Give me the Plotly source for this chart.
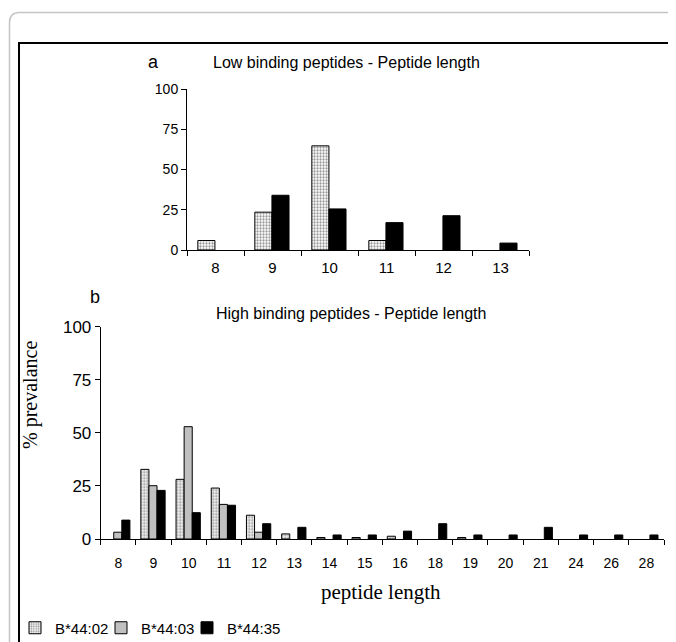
import plotly.graph_objects as go

# ---- data (None = no bar drawn) ----
cats_a = ["8", "9", "10", "11", "12", "13"]
low_b4402 = [5.9, 23.5, 64.7, 5.9, None, None]
low_b4435 = [None, 34.0, 25.5, 17.0, 21.3, 4.3]

cats_b = ["8", "9", "10", "11", "12", "13", "14", "15", "16", "18", "19", "20", "21", "24", "26", "28"]
high_b4402 = [None, 32.8, 28.1, 24.0, 11.2, 2.4, 0.7, 0.7, 1.3, None, 0.7, None, None, None, None, None]
high_b4403 = [3.2, 25.1, 52.9, 16.3, 3.2, None, None, None, None, None, None, None, None, None, None, None]
high_b4435 = [8.9, 22.9, 12.4, 15.9, 7.2, 5.5, 1.9, 1.9, 3.7, 7.2, 1.9, 1.9, 5.5, 1.9, 1.9, 1.9]

y_ticks = [0, 25, 50, 75, 100]
series_names = ["B*44:02", "B*44:03", "B*44:35"]

W, H = 676, 642
OFF = 8  # page body margin
SANS = "Liberation Sans, Arial, sans-serif"
SERIF = "Liberation Serif, Times New Roman, serif"


def px(x):
    return (x - OFF) / W


def py(y):
    return 1 - (y - OFF) / H


dotted = dict(color="white", line=dict(color="black", width=1),
              pattern=dict(shape=".", fgcolor="#333333", bgcolor="white", size=3, solidity=0.45))
gray = dict(color="#c0c0c0", line=dict(color="black", width=1))
black = dict(color="black", line=dict(color="black", width=1))

fig = go.Figure()

# panel a
fig.add_trace(go.Bar(x=cats_a, y=low_b4402, marker=dotted, width=0.3, offset=-0.31,
                     xaxis="x", yaxis="y", showlegend=False, name=series_names[0]))
fig.add_trace(go.Bar(x=cats_a, y=low_b4435, marker=black, width=0.3, offset=-0.01,
                     xaxis="x", yaxis="y", showlegend=False, name=series_names[2]))

# panel b
bw = 0.23
fig.add_trace(go.Bar(x=cats_b, y=high_b4402, marker=dotted, width=bw, offset=-0.36,
                     xaxis="x2", yaxis="y2", name=series_names[0], legend="legend"))
fig.add_trace(go.Bar(x=cats_b, y=high_b4403, marker=gray, width=bw, offset=-0.13,
                     xaxis="x2", yaxis="y2", name=series_names[1], legend="legend2"))
fig.add_trace(go.Bar(x=cats_b, y=high_b4435, marker=black, width=bw, offset=0.10,
                     xaxis="x2", yaxis="y2", name=series_names[2], legend="legend3"))

axis_common = dict(showline=True, linecolor="black", linewidth=1, ticks="outside",
                   ticklen=5, tickcolor="black", showgrid=False, zeroline=False)


def leg(xpix):
    return dict(orientation="h", x=px(xpix), y=py(628), xanchor="left", yanchor="middle",
                font=dict(size=15, family=SANS), itemwidth=30, bgcolor="rgba(0,0,0,0)")


fig.update_layout(
    width=W, height=H,
    margin=dict(l=0, r=0, t=0, b=0, autoexpand=False),
    paper_bgcolor="white", plot_bgcolor="white",
    barmode="overlay",
    font=dict(family=SANS, color="black", size=14),
    xaxis=dict(domain=[px(187), px(529)], anchor="y", type="category",
               tickson="boundaries", tickfont=dict(size=15), ticklabelstandoff=4, **axis_common),
    yaxis=dict(domain=[py(250), py(89)], anchor="x", range=[0, 100], tickvals=y_ticks,
               tickfont=dict(size=14), **axis_common),
    xaxis2=dict(domain=[px(100.7), px(664)], anchor="y2", type="category",
                tickson="boundaries", tickfont=dict(size=14), ticklabelstandoff=11, **axis_common),
    yaxis2=dict(domain=[py(539), py(326.7)], anchor="x2", range=[0, 100], tickvals=y_ticks,
                tickfont=dict(size=17), **axis_common),
    showlegend=True,
    legend=leg(15),
    legend2=leg(101),
    legend3=leg(187),
)

annotations = [
    dict(text="a", x=px(153), y=py(62), font=dict(size=18)),
    dict(text="Low binding peptides - Peptide length", x=px(347), y=py(62), font=dict(size=16)),
    dict(text="b", x=px(95), y=py(297), font=dict(size=18)),
    dict(text="High binding peptides - Peptide length", x=px(351), y=py(313), font=dict(size=16)),
    dict(text="% prevalance", x=px(30), y=py(395), textangle=-90, font=dict(size=20, family=SERIF)),
    dict(text="peptide length", x=px(381), y=py(592), font=dict(size=21, family=SERIF)),
]
for a in annotations:
    a.update(xref="paper", yref="paper", showarrow=False, xanchor="center", yanchor="middle")
fig.update_layout(annotations=annotations)

# frames
r = 10
x0, y0 = px(9.5), py(12.5)
gray_path = (f"M {x0},{py(H + 40)} L {x0},{py(12.5 + r)} "
             f"Q {x0},{y0} {px(9.5 + r)},{y0} L {px(W + 40)},{y0}")
fig.add_shape(type="path", path=gray_path, xref="paper", yref="paper",
              line=dict(color="#c4c4c4", width=1.5))
fig.add_shape(type="rect", xref="paper", yref="paper",
              x0=px(19), y0=py(H + 40), x1=px(675), y1=py(43),
              line=dict(color="black", width=2), fillcolor="rgba(0,0,0,0)", layer="below")

fig.write_html("out.html")
